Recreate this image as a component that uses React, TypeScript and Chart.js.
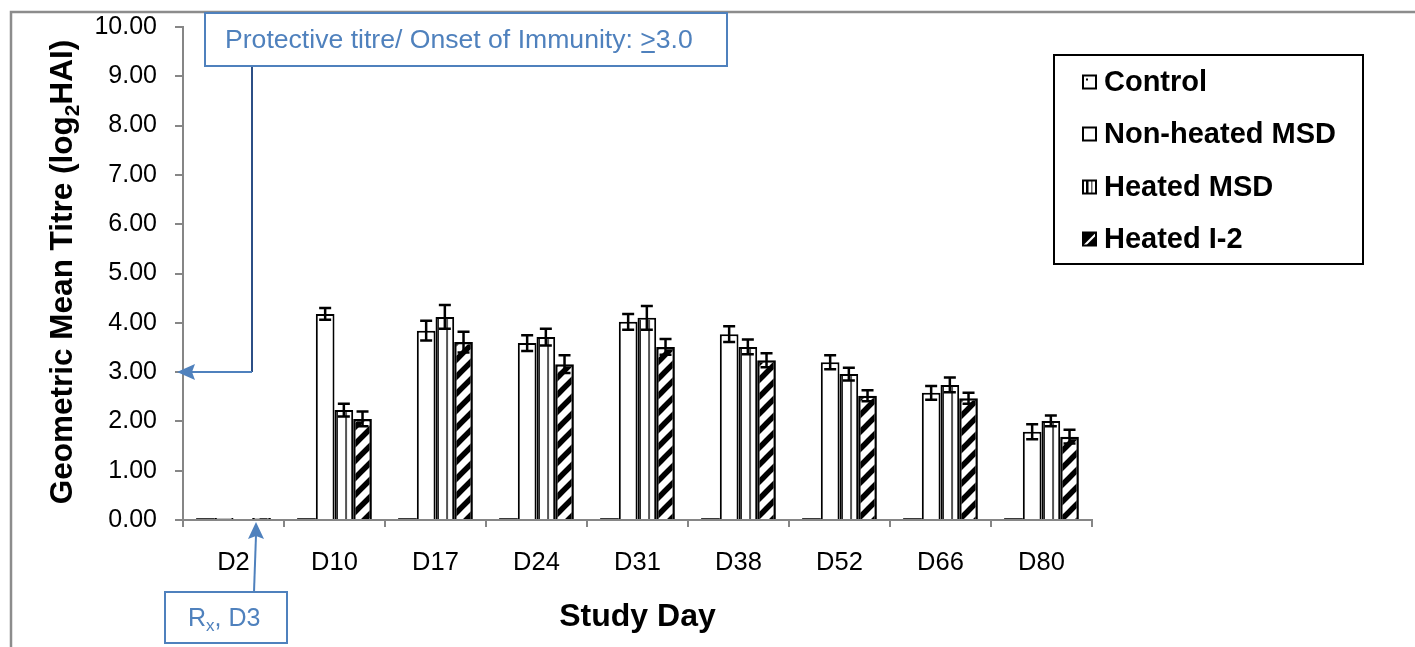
import React, { useEffect, useRef } from "react";
import { Chart, registerables } from "chart.js";

Chart.register(...registerables);

const categories = ["D2", "D10", "D17", "D24", "D31", "D38", "D52", "D66", "D80"];
const controlValues = [0, 0, 0, 0, 0, 0, 0, 0, 0];
const nonHeatedValues = [0, 4.18, 3.84, 3.59, 4.02, 3.77, 3.2, 2.58, 1.79];
const heatedMsdValues = [0, 2.23, 4.12, 3.71, 4.1, 3.51, 2.96, 2.74, 2.01];
const heatedI2Values = [0, 2.05, 3.61, 3.16, 3.51, 3.24, 2.52, 2.47, 1.69];
const controlErrors = [0, 0, 0, 0, 0, 0, 0, 0, 0];
const nonHeatedErrors = [0, 0.12, 0.2, 0.16, 0.16, 0.16, 0.14, 0.14, 0.15];
const heatedMsdErrors = [0, 0.13, 0.24, 0.17, 0.24, 0.15, 0.13, 0.15, 0.11];
const heatedI2Errors = [0, 0.15, 0.21, 0.18, 0.16, 0.14, 0.11, 0.11, 0.14];
const seriesNames = ["Control", "Non-heated MSD", "Heated MSD", "Heated I-2"];
const yMin = 0;
const yMax = 10;
const yStep = 1;
const protectiveTitre = 3.0;
const protectiveLabel = "Protective titre/ Onset of Immunity: ";
const xTitle = "Study Day";

const FONT = "'Liberation Sans', Arial, Helvetica, sans-serif";
const BLUE = "#4f81bd";
const DARKBLUE = "#2c4f86";
const AXIS = "#868686";

function makeHatch(): CanvasPattern | string {
  const c = document.createElement("canvas");
  const s = 17;
  c.width = s;
  c.height = s;
  const g = c.getContext("2d");
  if (!g) return "#000";
  g.fillStyle = "#fff";
  g.fillRect(0, 0, s, s);
  g.strokeStyle = "#000";
  g.lineWidth = 5.5;
  g.beginPath();
  g.moveTo(-s, s);
  g.lineTo(s, -s);
  g.moveTo(0, s);
  g.lineTo(s, 0);
  g.moveTo(0, 2 * s);
  g.lineTo(2 * s, 0);
  g.stroke();
  const p = g.createPattern(c, "repeat");
  return p || "#000";
}

export default function App() {
  const ref = useRef<HTMLCanvasElement | null>(null);

  useEffect(() => {
    const canvas = ref.current;
    if (!canvas) return;
    const hatch = makeHatch();
    const errorSets = [controlErrors, nonHeatedErrors, heatedMsdErrors, heatedI2Errors];
    const valueSets = [controlValues, nonHeatedValues, heatedMsdValues, heatedI2Values];

    const decorPlugin = {
      id: "decor",
      afterDatasetsDraw(chart: any) {
        const ctx = chart.ctx as CanvasRenderingContext2D;
        const yScale = chart.scales.y;
        const msdMeta = chart.getDatasetMeta(2);
        ctx.save();
        msdMeta.data.forEach((el: any, i: number) => {
          if (!heatedMsdValues[i]) return;
          const left = el.x - el.width / 2;
          ctx.strokeStyle = "#000";
          ctx.lineWidth = 1.5;
          ctx.beginPath();
          ctx.moveTo(left + 2.6, el.y + 2);
          ctx.lineTo(left + 2.6, el.base);
          ctx.stroke();
          ctx.strokeStyle = "#555";
          ctx.lineWidth = 2;
          ctx.beginPath();
          const lx = left + el.width * 0.62;
          ctx.moveTo(lx, el.y + 2);
          ctx.lineTo(lx, el.base);
          ctx.stroke();
        });
        ctx.strokeStyle = "#000";
        ctx.lineWidth = 2.5;
        for (let d = 0; d < valueSets.length; d++) {
          const meta = chart.getDatasetMeta(d);
          meta.data.forEach((el: any, i: number) => {
            const e = errorSets[d][i];
            if (!e) return;
            const v = valueSets[d][i];
            const yT = yScale.getPixelForValue(v + e);
            const yB = yScale.getPixelForValue(v - e);
            const x = el.x;
            ctx.beginPath();
            ctx.moveTo(x, yT);
            ctx.lineTo(x, yB);
            ctx.moveTo(x - 6, yT);
            ctx.lineTo(x + 6, yT);
            ctx.moveTo(x - 6, yB);
            ctx.lineTo(x + 6, yB);
            ctx.stroke();
          });
        }
        ctx.restore();
      },
      afterDraw(chart: any) {
        const ctx = chart.ctx as CanvasRenderingContext2D;
        const area = chart.chartArea;
        const yScale = chart.scales.y;
        ctx.save();
        ctx.strokeStyle = "#8c8c8c";
        ctx.lineWidth = 2.5;
        ctx.beginPath();
        ctx.moveTo(11, 647);
        ctx.lineTo(11, 12);
        ctx.lineTo(1415, 12);
        ctx.stroke();

        // Y title with subscript
        ctx.fillStyle = "#000";
        ctx.textBaseline = "alphabetic";
        ctx.textAlign = "left";
        const bigF = `bold 31.5px ${FONT}`;
        const smallF = `bold 21px ${FONT}`;
        const parts: [string, string, number][] = [
          ["Geometric Mean Titre (log", bigF, 0],
          ["2", smallF, 7],
          ["HAI)", bigF, 0],
        ];
        let total = 0;
        parts.forEach((p) => {
          ctx.font = p[1];
          total += ctx.measureText(p[0]).width;
        });
        ctx.save();
        ctx.translate(72, 272);
        ctx.rotate(-Math.PI / 2);
        let px = -total / 2;
        parts.forEach((p) => {
          ctx.font = p[1];
          ctx.fillText(p[0], px, p[2]);
          px += ctx.measureText(p[0]).width;
        });
        ctx.restore();

        // X title
        ctx.font = `bold 32px ${FONT}`;
        ctx.textAlign = "center";
        ctx.fillText(xTitle, (area.left + area.right) / 2, 626);

        // Legend
        const lx = 1054, ly = 55, lw = 309, lh = 209;
        ctx.fillStyle = "#fff";
        ctx.fillRect(lx, ly, lw, lh);
        ctx.strokeStyle = "#000";
        ctx.lineWidth = 2;
        ctx.strokeRect(lx, ly, lw, lh);
        const rows = [82, 134, 187, 239];
        ctx.font = `bold 29px ${FONT}`;
        ctx.textAlign = "left";
        ctx.textBaseline = "middle";
        rows.forEach((ry, k) => {
          const mx = 1083, my = ry - 6.5, ms = 13;
          ctx.fillStyle = "#fff";
          ctx.fillRect(mx, my, ms, ms);
          if (k === 0) {
            ctx.fillStyle = "#000";
            ctx.fillRect(mx + 3, my + 3, 2, 2);
          } else if (k === 2) {
            ctx.fillStyle = "#000";
            ctx.fillRect(mx + 3, my, 2.5, ms);
            ctx.fillStyle = "#666";
            ctx.fillRect(mx + 8, my, 1.5, ms);
          } else if (k === 3) {
            ctx.fillStyle = "#000";
            ctx.beginPath();
            ctx.moveTo(mx, my);
            ctx.lineTo(mx + ms, my);
            ctx.lineTo(mx, my + ms);
            ctx.closePath();
            ctx.fill();
            ctx.beginPath();
            ctx.moveTo(mx + ms, my + 3);
            ctx.lineTo(mx + ms, my + ms);
            ctx.lineTo(mx + 3, my + ms);
            ctx.closePath();
            ctx.fill();
          }
          ctx.strokeStyle = "#000";
          ctx.lineWidth = 2;
          ctx.strokeRect(mx, my, ms, ms);
          ctx.fillStyle = "#000";
          ctx.fillText(seriesNames[k], 1104, ry + 1);
        });

        // Protective titre annotation
        const y3 = yScale.getPixelForValue(protectiveTitre);
        ctx.strokeStyle = DARKBLUE;
        ctx.lineWidth = 2;
        ctx.beginPath();
        ctx.moveTo(252, 66);
        ctx.lineTo(252, y3);
        ctx.stroke();
        ctx.strokeStyle = BLUE;
        ctx.beginPath();
        ctx.moveTo(252, y3);
        ctx.lineTo(190, y3);
        ctx.stroke();
        ctx.fillStyle = BLUE;
        ctx.beginPath();
        ctx.moveTo(177, y3);
        ctx.lineTo(195, y3 - 8);
        ctx.lineTo(192, y3);
        ctx.lineTo(195, y3 + 8);
        ctx.closePath();
        ctx.fill();

        ctx.fillStyle = "#fff";
        ctx.fillRect(205, 13, 522, 53);
        ctx.strokeStyle = BLUE;
        ctx.lineWidth = 2;
        ctx.strokeRect(205, 13, 522, 53);
        ctx.fillStyle = BLUE;
        ctx.font = `26.6px ${FONT}`;
        ctx.textAlign = "left";
        ctx.textBaseline = "alphabetic";
        let tx = 225;
        ctx.fillText(protectiveLabel, tx, 48);
        tx += ctx.measureText(protectiveLabel).width;
        const gtW = ctx.measureText(">").width;
        ctx.fillText(">", tx, 48);
        ctx.fillRect(tx + 1, 51, gtW - 2, 2);
        tx += gtW;
        ctx.fillText(protectiveTitre.toFixed(1), tx, 48);

        // Rx, D3 annotation
        ctx.strokeStyle = BLUE;
        ctx.lineWidth = 2;
        ctx.beginPath();
        ctx.moveTo(254, 592);
        ctx.lineTo(256, 535);
        ctx.stroke();
        ctx.fillStyle = BLUE;
        ctx.beginPath();
        ctx.moveTo(256, area.bottom + 2);
        ctx.lineTo(264, 539);
        ctx.lineTo(256, 536);
        ctx.lineTo(248, 539);
        ctx.closePath();
        ctx.fill();
        ctx.fillStyle = "#fff";
        ctx.fillRect(165, 592, 122, 51);
        ctx.strokeStyle = BLUE;
        ctx.strokeRect(165, 592, 122, 51);
        ctx.fillStyle = BLUE;
        let rx = 188;
        ctx.font = `25px ${FONT}`;
        ctx.fillText("R", rx, 626);
        rx += ctx.measureText("R").width;
        ctx.font = `17px ${FONT}`;
        ctx.fillText("x", rx, 631);
        rx += ctx.measureText("x").width;
        ctx.font = `25px ${FONT}`;
        ctx.fillText(", D3", rx, 626);
        ctx.restore();
      },
    };

    const chart = new Chart(canvas, {
      type: "bar",
      data: {
        labels: categories,
        datasets: [
          {
            label: seriesNames[0],
            data: controlValues,
            backgroundColor: "#3a3a3a",
            borderColor: "#3a3a3a",
            borderWidth: 0,
            minBarLength: 2,
          },
          {
            label: seriesNames[1],
            data: nonHeatedValues,
            backgroundColor: "#ffffff",
            borderColor: "#000000",
            borderWidth: 2,
            minBarLength: 2,
          },
          {
            label: seriesNames[2],
            data: heatedMsdValues,
            backgroundColor: "#ffffff",
            borderColor: "#000000",
            borderWidth: 2,
            minBarLength: 0,
          },
          {
            label: seriesNames[3],
            data: heatedI2Values,
            backgroundColor: hatch as any,
            borderColor: "#000000",
            borderWidth: 2.5,
            minBarLength: 2,
          },
        ],
      },
      options: {
        responsive: false,
        animation: false,
        events: [],
        datasets: {
          bar: {
            categoryPercentage: 0.74,
            barPercentage: 1,
          },
        },
        layout: { padding: { left: 0, top: 27, right: 323, bottom: 0 } },
        plugins: {
          legend: { display: false },
          tooltip: { enabled: false },
          title: { display: false },
        },
        scales: {
          x: {
            grid: {
              drawOnChartArea: false,
              drawTicks: true,
              tickLength: 7,
              color: AXIS,
              lineWidth: 2,
              offset: true,
            },
            border: { color: AXIS, width: 2 },
            ticks: {
              font: { family: FONT, size: 25.5 },
              color: "#000",
              padding: 21,
              maxRotation: 0,
            },
            afterFit: (s: any) => {
              s.height = 127;
            },
          },
          y: {
            min: yMin,
            max: yMax,
            grid: {
              drawOnChartArea: false,
              drawTicks: true,
              tickLength: 8,
              color: AXIS,
              lineWidth: 2,
            },
            border: { color: AXIS, width: 2 },
            ticks: {
              stepSize: yStep,
              font: { family: FONT, size: 25, lineHeight: 0.6 },
              color: "#000",
              padding: 18,
              callback: (v: any) => Number(v).toFixed(2),
            },
            afterFit: (s: any) => {
              s.width = 183;
            },
          },
        },
      },
      plugins: [decorPlugin],
    });
    return () => chart.destroy();
  }, []);

  return (
    <div style={{ position: "absolute", left: 0, top: 0, width: 1415, height: 647, background: "#fff", overflow: "hidden" }}>
      <canvas ref={ref} width={1415} height={647} style={{ display: "block", width: 1415, height: 647 }} />
    </div>
  );
}
